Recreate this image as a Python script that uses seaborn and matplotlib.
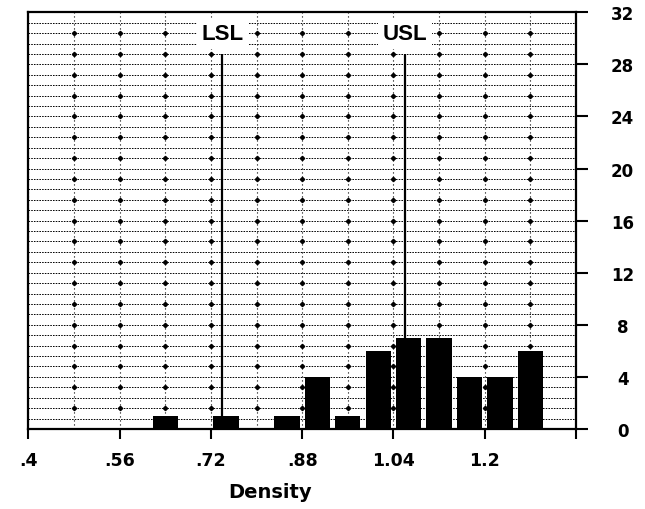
import numpy as np
import pandas as pd
import matplotlib
matplotlib.use("Agg")
import matplotlib.pyplot as plt
import seaborn as sns
from matplotlib.ticker import FixedLocator, MultipleLocator

# Density histogram: 18 equal-width bins between 0.40 and 1.36
bin_edges = np.linspace(0.40, 1.36, 19)
bin_counts = [0, 0, 0, 0, 1, 0, 1, 0, 1, 4, 1, 6, 7, 7, 4, 4, 6, 0]

# Specification limits
spec_names = ["LSL", "USL"]
spec_values = [0.74, 1.06]

x_ticks = [0.40, 0.56, 0.72, 0.88, 1.04, 1.20, 1.36]
x_tick_labels = [".4", ".56", ".72", ".88", "1.04", "1.2", ""]
y_ticks = [0, 4, 8, 12, 16, 20, 24, 28, 32]
y_tick_labels = [str(v) for v in y_ticks]

sns.set_style("white")
plt.rcParams["font.family"] = ["DejaVu Sans"]
plt.rcParams["text.color"] = "black"

fig = plt.figure(figsize=(6.45, 5.10), dpi=100)
ax = fig.add_axes([28.3 / 645, 80 / 510, (576 - 28.3) / 645, (430 - 13.3) / 510])

hist_df = pd.DataFrame({
    "density": (bin_edges[:-1] + bin_edges[1:]) / 2,
    "count": bin_counts,
})
sns.histplot(data=hist_df, x="density", weights="count",
             bins=list(bin_edges), shrink=0.83,
             color="black", alpha=1, edgecolor="none", linewidth=0,
             ax=ax, zorder=3)

ax.set_xlim(x_ticks[0], x_ticks[-1])
ax.set_ylim(y_ticks[0], y_ticks[-1])

# dotted grid: fine horizontal rules, sparser vertical rules
ax.xaxis.set_major_locator(FixedLocator(x_ticks))
ax.xaxis.set_minor_locator(MultipleLocator(0.08))
ax.yaxis.set_major_locator(FixedLocator(y_ticks))
ax.yaxis.set_minor_locator(MultipleLocator(0.8))
ax.set_xticklabels(x_tick_labels)
ax.set_yticklabels(y_tick_labels)
ax.yaxis.grid(True, which="both", color="black", linewidth=0.7,
              linestyle=(0, (1.6, 1.2)), zorder=0)
ax.xaxis.grid(True, which="both", color="black", linewidth=0.8,
              linestyle=(0, (1.0, 2.6)), zorder=0)
ax.set_axisbelow(True)

# grid intersection dots
gx = np.arange(0.48, 1.30, 0.08)
gy = np.arange(1.6, 31.0, 1.6)
GX, GY = np.meshgrid(gx, gy)
ax.plot(GX.ravel(), GY.ravel(), linestyle="none", marker="D", ms=2.2,
        color="black", zorder=1)

# specification limit lines with labels
ax.vlines(spec_values, 0, 28.8, color="black", linewidth=1.6, zorder=4)
for name, v in zip(spec_names, spec_values):
    ax.text(v, 30.35, name, ha="center", va="center",
            family=["Liberation Sans", "DejaVu Sans"],
            fontweight="bold", fontsize=16, color="black", zorder=5,
            bbox=dict(boxstyle="square,pad=0.2", fc="white", ec="none"))

for s in ax.spines.values():
    s.set_visible(True)
    s.set_color("black")
    s.set_linewidth(1.6)

ax.yaxis.tick_right()
ax.tick_params(axis="y", which="major", right=True, left=False, length=8.6,
               width=1.5, direction="out", pad=25, labelsize=12,
               colors="black", labelcolor="black")
ax.tick_params(axis="x", which="major", bottom=True, length=7.2, width=1.5,
               direction="out", pad=9, labelsize=12.5,
               colors="black", labelcolor="black")
ax.tick_params(which="minor", length=0)
for lab in ax.get_yticklabels():
    lab.set_ha("center")
    lab.set_fontweight("bold")
for lab in ax.get_xticklabels():
    lab.set_fontweight("bold")

ax.set_ylabel("")
ax.set_xlabel("Density", fontsize=14, fontweight="bold", color="black")
ax.xaxis.set_label_coords(0.441, -0.128)

fig.savefig("out.png", dpi=100, facecolor="white")
